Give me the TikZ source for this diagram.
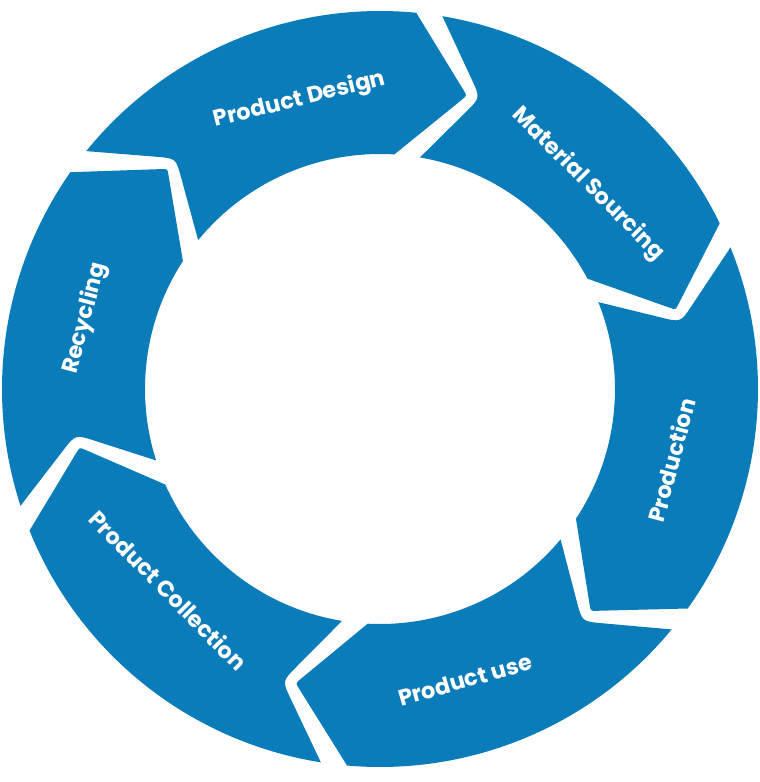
\documentclass[tikz,border=0pt]{standalone}
\usepackage{fontspec}
\setmainfont{Poppins}
\usetikzlibrary{calc}
\definecolor{cycblue}{RGB}{10,124,186}

\begin{document}
\begin{tikzpicture}[x=1pt,y=1pt,
  seg/.style={fill=cycblue},
  lbl/.style={text=white,font=\bfseries\fontsize{22.5}{22.5}\selectfont,inner sep=0pt}]
  \useasboundingbox (-380,-393) rectangle (380,389);
  % ring pieces: head angle / tail angle of each arrow
  \foreach \headang/\tailang in {84.5/145,26/84.5,-35.5/26,-95/-35.5,-158/-95,-215/-158}{
    \coordinate (ho) at (\headang:378);
    \coordinate (tip) at ({\headang-11}:306);
    \coordinate (hi) at ({\headang+2}:235);
    \coordinate (ti) at ({\tailang-4.3}:235);
    \coordinate (nt) at ({\tailang-13.5}:308);
    \coordinate (to) at ({\tailang-4}:378);
    \fill[seg] (to) arc[start angle=\tailang-4,end angle=\headang,radius=378pt]
      -- ($(tip)!6pt!(ho)$) .. controls (tip) .. ($(tip)!6pt!(hi)$)
      -- (hi) arc[start angle=\headang+2,end angle=\tailang-4.3,radius=235pt]
      -- ($(nt)!20pt!(ti)$) .. controls (nt) .. ($(nt)!20pt!(to)$) -- cycle;
  }
  \node[lbl,rotate=14] (design) at (105.5:300) {Product Design};
  \node[lbl,rotate=-45] (sourcing) at (44.6:292) {Material Sourcing};
  \node[lbl,rotate=75] (production) at (-13.7:300) {Production};
  \node[lbl,rotate=16] (use) at (-73.7:303) {Product use};
  \node[lbl,rotate=-45.5] (collection) at (-136.5:292) {Product Collection};
  \node[lbl,rotate=75] (recycling) at (166.5:303) {Recycling};
\end{tikzpicture}
\end{document}
